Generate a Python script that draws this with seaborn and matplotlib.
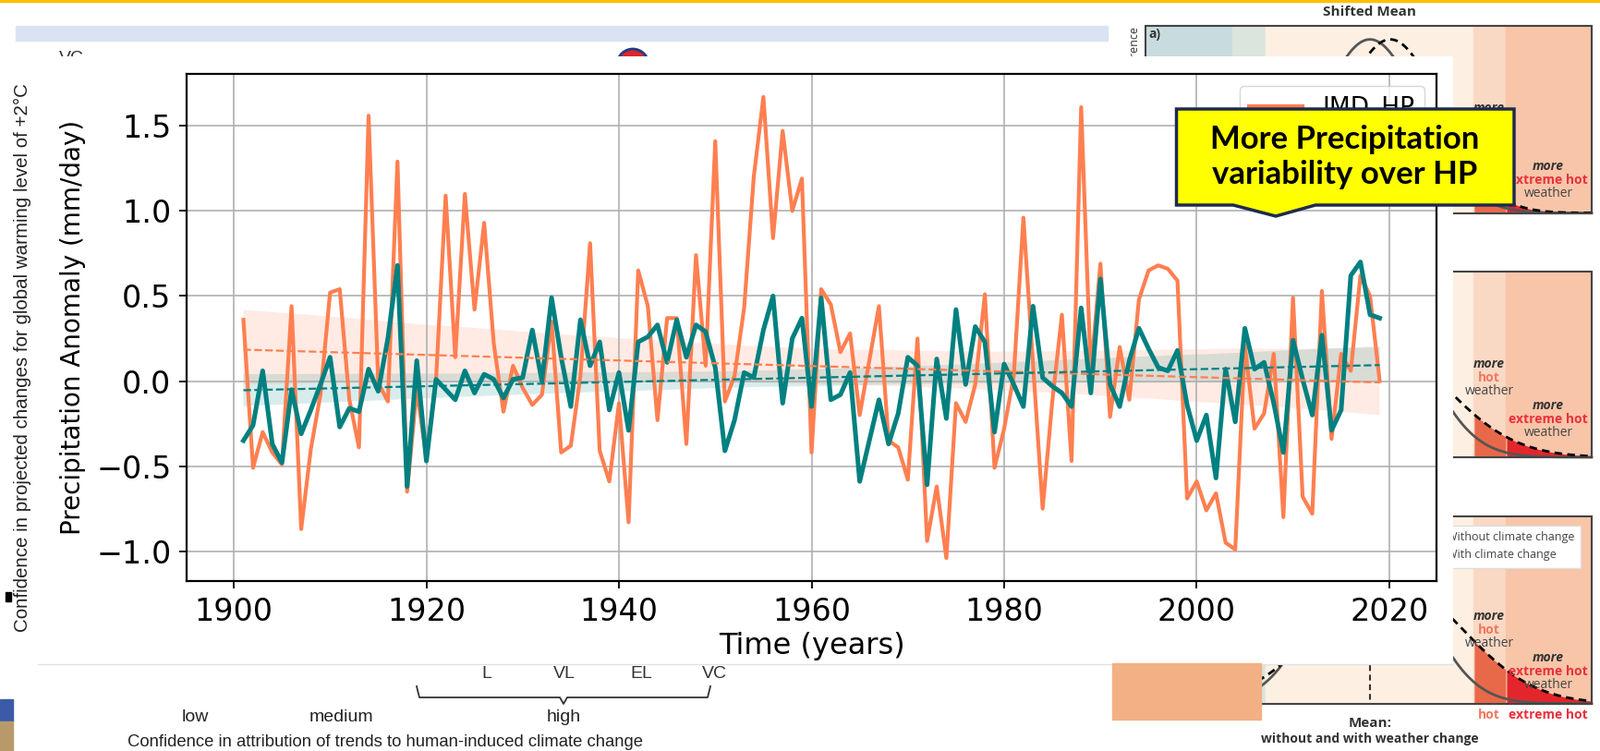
import numpy as np
import pandas as pd
import seaborn as sns
import matplotlib.pyplot as plt
from matplotlib.patches import Rectangle, Polygon, Circle

# --- data (annual precipitation anomaly, mm/day) ---
years = list(range(1901, 2020))

imd_hp = [0.36, -0.51, -0.30, -0.42, -0.49, 0.44, -0.87, -0.40, -0.08, 0.52,
          0.54, -0.11, -0.39, 1.56, -0.01, -0.12, 1.29, -0.65, -0.05, -0.45,
          0.00, 1.09, 0.14, 1.10, 0.42, 0.93, 0.22, -0.18, 0.09, -0.04,
          -0.14, -0.08, 0.35, -0.42, -0.38, 0.03, 0.81, -0.41, -0.59, -0.13,
          -0.83, 0.65, 0.44, -0.23, 0.37, 0.37, -0.37, 0.74, 0.09, 1.41,
          -0.12, 0.03, 0.43, 1.20, 1.67, 0.84, 1.47, 1.00, 1.19, -0.42,
          0.54, 0.45, 0.17, 0.28, -0.20, 0.12, 0.44, -0.35, -0.39, -0.58,
          0.25, -0.94, -0.62, -1.04, -0.13, -0.24, -0.02, 0.51, -0.51, -0.28,
          0.03, 0.96, 0.10, -0.75, -0.12, 0.39, -0.47, 1.61, 0.05, 0.69,
          -0.21, 0.20, -0.11, 0.48, 0.65, 0.68, 0.66, 0.59, -0.69, -0.59,
          -0.76, -0.66, -0.95, -0.99, 0.21, -0.28, -0.19, 0.16, -0.80, 0.49,
          -0.68, -0.78, 0.53, -0.34, 0.16, 0.06, 0.62, 0.50, 0.00]

second_hp = [-0.35, -0.26, 0.06, -0.37, -0.48, -0.05, -0.31, -0.17, -0.02, 0.14,
             -0.27, -0.16, -0.18, 0.07, -0.06, 0.25, 0.68, -0.62, 0.12, -0.47,
             0.01, -0.05, -0.11, 0.06, -0.07, 0.04, 0.01, -0.10, 0.01, 0.02,
             0.30, 0.00, 0.49, 0.14, -0.15, 0.36, 0.09, 0.23, -0.17, 0.05,
             -0.29, 0.23, 0.26, 0.33, 0.11, 0.36, 0.14, 0.33, 0.29, 0.08,
             -0.41, -0.23, 0.05, 0.02, 0.30, 0.50, -0.13, 0.25, 0.37, -0.15,
             0.49, -0.11, -0.08, 0.05, -0.59, -0.35, -0.11, -0.37, -0.19, 0.14,
             0.09, -0.61, 0.13, -0.22, 0.42, -0.02, 0.32, 0.23, -0.30, 0.10,
             -0.02, -0.15, 0.44, 0.02, -0.03, -0.07, -0.15, 0.43, -0.07, 0.60,
             -0.02, -0.15, 0.12, 0.31, 0.19, 0.08, 0.06, 0.18, -0.14, -0.35,
             -0.20, -0.57, 0.07, -0.24, 0.31, 0.07, 0.11, -0.13, -0.42, 0.24,
             0.01, -0.20, 0.27, -0.29, -0.17, 0.62, 0.70, 0.39, 0.37]

df = pd.DataFrame({"year": years, "imd": imd_hp, "second": second_hp})

ORANGE = "#FF7F50"
TEAL = "#008080"
SLIDE_FONT = "Liberation Sans"
W, H = 1733, 813

fig = plt.figure(figsize=(W / 100, H / 100), dpi=100)

# --- slide background (pixel coordinates, origin top-left) ---
bg = fig.add_axes([0, 0, 1, 1])
bg.set_xlim(0, W)
bg.set_ylim(H, 0)
bg.axis("off")

bg.add_patch(Rectangle((0, 0), W, 2.5, color="#FFC000", zorder=1))
bg.add_patch(Rectangle((17, 28), 1182, 16, color="#DAE3F3", zorder=1))
bg.text(77, 63, "VC", fontsize=14, family=SLIDE_FONT, color="#333333",
        ha="center", va="center", zorder=2)
bg.add_patch(Circle((685, 70), 17, fc="#D9262E", ec="#1F3C88", lw=2, zorder=2))

# IPCC style panels on the right
bands = [(1240, 1334, "#C8DCDF"), (1334, 1370, "#DCE4DE"), (1370, 1595, "#FDF0E2"),
         (1595, 1630, "#FAD9C4"), (1630, 1723, "#F8C5A9")]
panels = [(28.5, 230.6, 1483, 55, 1505, 55),
          (294, 495, 1483, 55, 1483, 78),
          (558.5, 761.7, 1483, 55, 1505, 78)]
xs = np.linspace(1240, 1723, 400)
for top, bot, c1, s1, c2, s2 in panels:
    for x0, x1, col in bands:
        bg.add_patch(Rectangle((x0, top), x1 - x0, bot - top, color=col, zorder=1))
    h = (bot - top) * 0.93
    y_solid = bot - h * np.exp(-0.5 * ((xs - c1) / s1) ** 2)
    y_dash = bot - h * (s1 / s2) * np.exp(-0.5 * ((xs - c2) / s2) ** 2)
    hot = (xs >= 1595) & (xs < 1630)
    ext = xs >= 1630
    bg.fill_between(xs[hot], y_dash[hot], bot, color="#E8694A", zorder=1.5, lw=0)
    bg.fill_between(xs[ext], y_dash[ext], bot, color="#E3262B", zorder=1.5, lw=0)
    bg.plot(xs, y_solid, color="#555555", lw=2, zorder=2)
    bg.plot(xs, y_dash, color="black", lw=2, ls=(0, (3, 2)), zorder=2)
    bg.add_patch(Rectangle((1240, top), 483, bot - top, fill=False,
                           ec="#444444", lw=1.5, zorder=2.5))

ipcc = dict(family="Open Sans", ha="center", va="center", zorder=3)
bg.text(1483, 13, "Shifted Mean", fontsize=11, fontweight="bold", color="#333333", **ipcc)
bg.text(1250, 37, "a)", fontsize=10, fontweight="bold", color="#333333", **ipcc)
bg.text(1228, 28, "Occurrence", fontsize=9, rotation=90, rotation_mode="anchor",
        family="Open Sans", ha="right", va="center", color="#333333", zorder=3)
bg.text(1612, 117, "more", fontsize=10, fontweight="bold", style="italic", color="#333333", **ipcc)


def more_text(x, y, word, colour):
    bg.text(x, y, "more", fontsize=10, fontweight="bold", style="italic", color="#333333", **ipcc)
    bg.text(x, y + 14.5, word, fontsize=10, fontweight="bold", color=colour, **ipcc)
    bg.text(x, y + 29, "weather", fontsize=10, color="#444444", **ipcc)


more_text(1676, 180, "extreme hot", "#E8323C")
more_text(1612, 394, "hot", "#F07860")
more_text(1676, 439, "extreme hot", "#E8323C")
more_text(1612, 667, "hot", "#F07860")
more_text(1676, 712, "extreme hot", "#E8323C")

bg.add_patch(Rectangle((1556, 569), 155, 46, fc="white", ec="#dddddd", lw=1, zorder=3))
bg.text(1566, 581, "Without climate change", fontsize=9, family="Open Sans",
        color="#444444", va="center", zorder=3.5)
bg.text(1566, 600, "With climate change", fontsize=9, family="Open Sans",
        color="#444444", va="center", zorder=3.5)
bg.plot([1483, 1483], [720, 762], color="#333333", lw=1.5, ls=(0, (3, 2)), zorder=2)
bg.text(1612, 774, "hot", fontsize=10, fontweight="bold", color="#F07860", **ipcc)
bg.text(1676, 774, "extreme hot", fontsize=10, fontweight="bold", color="#E8323C", **ipcc)
bg.text(1483, 783, "Mean:", fontsize=11, fontweight="bold", color="#333333", **ipcc)
bg.text(1483, 800, "without and with weather change", fontsize=10,
        fontweight="bold", color="#333333", **ipcc)

# left and bottom slide text
bg.text(24, 387, "Confidence in projected changes for global warming level of +2°C",
        rotation=90, fontsize=14.8, family=SLIDE_FONT, color="#222222",
        ha="center", va="center", zorder=2)
bg.add_patch(Rectangle((6, 641), 6, 10, color="black", zorder=2))
for x, lab in zip([527, 611, 694, 773], ["L", "VL", "EL", "VC"]):
    bg.text(x, 729, lab, fontsize=14, family=SLIDE_FONT, color="#333333",
            ha="center", va="center", zorder=2)
bg.plot([451, 454, 606, 610, 614, 766, 769], [743, 755, 755, 762, 755, 755, 743],
        color="#333333", lw=1.3, zorder=2)
for x, lab in zip([211, 370, 610], ["low", "medium", "high"]):
    bg.text(x, 776, lab, fontsize=14, family=SLIDE_FONT, color="#222222",
            ha="center", va="center", zorder=2)
bg.text(417, 803, "Confidence in attribution of trends to human-induced climate change",
        fontsize=13.3, family=SLIDE_FONT, color="#222222", ha="center", va="center", zorder=2)
bg.add_patch(Rectangle((0, 757), 14, 24, color="#3B5BA9", zorder=2))
bg.add_patch(Rectangle((0, 781), 14, 32, color="#B89A6A", zorder=2))

# white area of the pasted chart image
bg.add_patch(Rectangle((41, 61), 1532, 658, fc="white", ec="none", zorder=5))
bg.plot([41, 1573], [719, 719], color="#e2e2e2", lw=1, zorder=5)
bg.add_patch(Rectangle((1204, 718), 161, 61, color="#F2B084", zorder=6))

# --- main chart ---
ax = fig.add_axes([202 / W, 1 - 629 / H, 1353 / W, 549 / H])
sns.lineplot(data=df, x="year", y="imd", ax=ax, color=ORANGE, lw=3.0, label="IMD_HP")
sns.lineplot(data=df, x="year", y="second", ax=ax, color=TEAL, lw=3.6)
sns.regplot(data=df, x="year", y="imd", ax=ax, scatter=False, color=ORANGE,
            seed=1, line_kws=dict(ls="--", lw=1.6))
sns.regplot(data=df, x="year", y="second", ax=ax, scatter=False, color=TEAL,
            seed=1, line_kws=dict(ls="--", lw=1.6))

ax.grid(True, color="#b0b0b0", lw=1.2)
ax.set_xlabel("Time (years)", fontsize=23)
ax.set_ylabel("Precipitation Anomaly (mm/day)", fontsize=20, labelpad=8)
ax.tick_params(labelsize=24, length=6, width=1.3, pad=6)
for sp in ax.spines.values():
    sp.set_color("black")
    sp.set_linewidth(1.6)
ax.legend(loc="upper right", fontsize=19, handlelength=2.2, framealpha=0.8,
          edgecolor="#cccccc")

# --- callout box on top ---
top = fig.add_axes([0, 0, 1, 1])
top.set_xlim(0, W)
top.set_ylim(H, 0)
top.axis("off")
top.add_patch(Polygon([(1273.5, 118), (1639, 118), (1639, 222), (1424, 222),
                       (1381, 234), (1335, 222), (1273.5, 222)],
                      closed=True, fc="#FFFF00", ec="#1F2A4E", lw=2.5))
top.text(1456, 170, "More Precipitation\nvariability over HP", fontsize=25,
         fontweight="bold", family="Lato", ha="center", va="center",
         linespacing=1.2, color="black")

fig.savefig("out.png", dpi=100)
